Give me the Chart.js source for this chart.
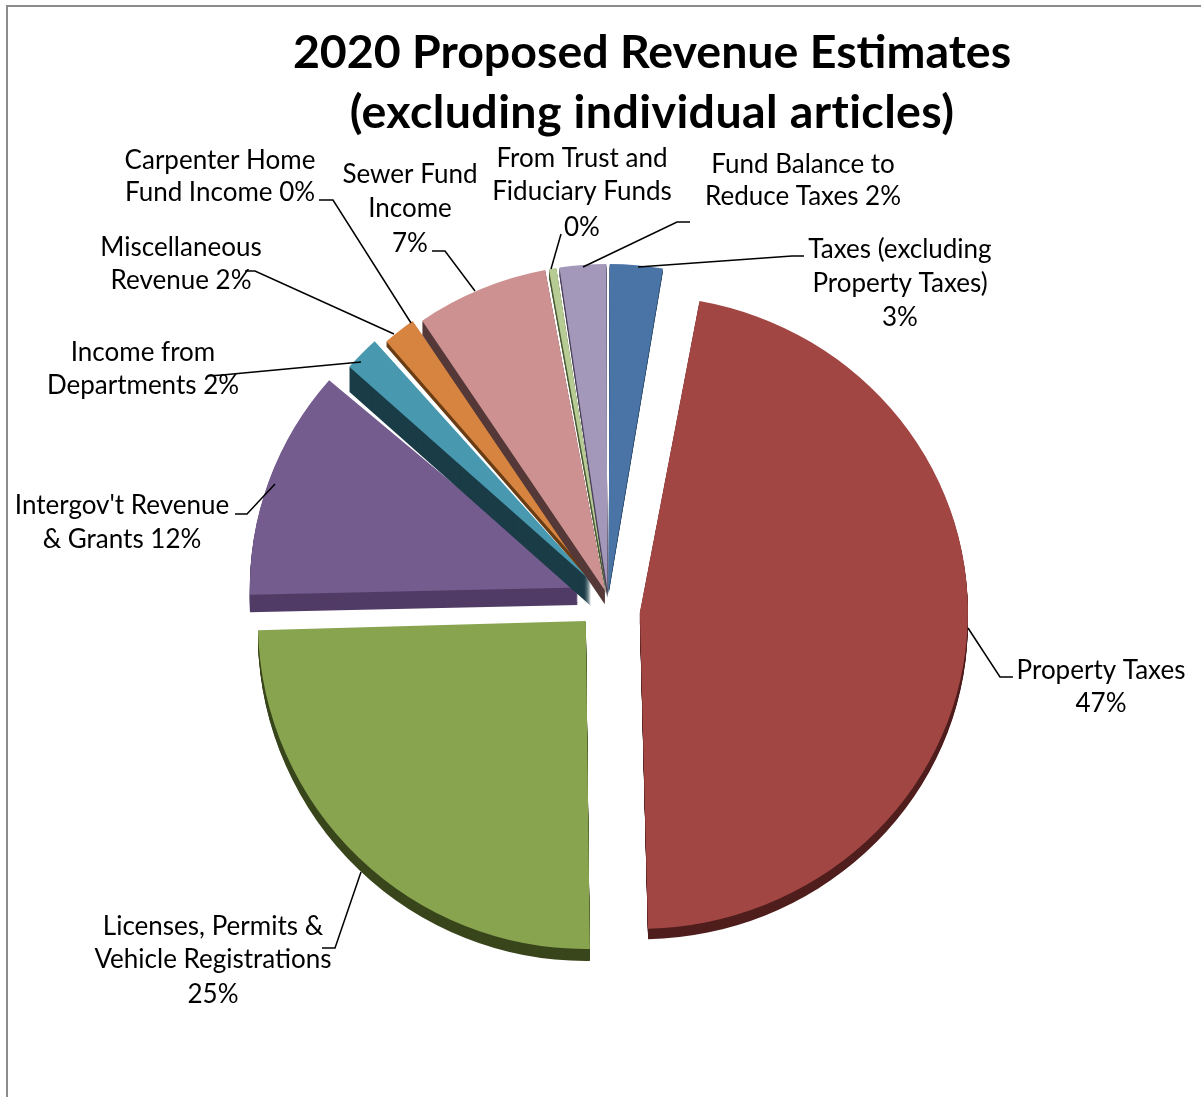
<!DOCTYPE html>
<html lang="en">
<head>
    <meta charset="UTF-8">
    <title>2020 Proposed Revenue Estimates</title>
    <script src="https://cdn.jsdelivr.net/npm/chart.js"></script>
    <style>
        html, body { margin: 0; padding: 0; background: #fff; overflow: hidden; }
        #wrap { position: relative; width: 1201px; height: 1097px; overflow: hidden; }
        #frame { position: absolute; left: 6px; top: 5px; width: 1300px; height: 1200px;
                 border-left: 2px solid #8c8c8c; border-top: 2px solid #8c8c8c; }
        #title { position: absolute; left: 252px; width: 800px; top: 20px; margin: 0; text-align: center;
                 font: bold 46.5px/60px Lato, sans-serif; color: #000; }
        #title span { letter-spacing: 0.4px; }
        canvas { position: absolute; left: 0; top: 0; }
    </style>
</head>
<body>
<div id="wrap">
    <div id="frame"></div>
    <canvas id="pie" width="1201" height="1097"></canvas>
    <h1 id="title">2020 Proposed Revenue Estimates<br><span>(excluding individual articles)</span></h1>
</div>
<script>
    const categories = ["Taxes (excluding Property Taxes)", "Property Taxes", "Licenses, Permits & Vehicle Registrations",
        "Intergov't Revenue & Grants", "Income from Departments", "Miscellaneous Revenue", "Carpenter Home Fund Income",
        "Sewer Fund Income", "From Trust and Fiduciary Funds", "Fund Balance to Reduce Taxes"];
    const shares = [2.7, 47, 24.7, 11.8, 2.1, 1.9, 0.1, 6.6, 0.49, 2.4];

    const colors = ["#4a74a6", "#a24644", "#88a44f", "#755c8f", "#4899b0", "#d6843f", "#93a9cf", "#cc9190", "#b7cc95", "#a397ba"];
    const sideColors = ["#2a4766", "#4f1e1d", "#39461c", "#513c66", "#1a3c47", "#6a3d15", "#566a8a", "#553838", "#4c5a35", "#4a4258"];
    const depths = [4, 11, 12, 18, 25, 5, 2, 14, 8, 8];
    // Chart.js moves a slice by a quarter of its offset
    const offsets = [32, 128, 128, 128, 96, 72, 32, 32, 32, 32];
    const radiusTrim = [2, 0, 0, 0, 5, 7, 2, 2, 2, 2];
    // back of the pie is foreshortened: vertical scale and the y it pivots on
    const squeeze = [1, 0.965, 1, 0.97, 1, 1, 1, 1, 1, 1];
    const squeezeY = [0, 935, 0, 600, 0, 0, 0, 0, 0, 0];
    const drawOrder = [2, 3, 4, 5, 6, 7, 8, 9, 0, 1];

    // label text without the percent, then where it sits: centre x, y of each line
    const labelLines = [
        ["Taxes (excluding", "Property Taxes)"],
        ["Property Taxes"],
        ["Licenses, Permits &", "Vehicle Registrations"],
        ["Intergov't Revenue", "& Grants"],
        ["Income from", "Departments"],
        ["Miscellaneous", "Revenue"],
        ["Carpenter Home", "Fund Income"],
        ["Sewer Fund", "Income"],
        ["From Trust and", "Fiduciary Funds"],
        ["Fund Balance to", "Reduce Taxes"]
    ];
    const percentOwnLine = [true, true, true, false, false, false, false, true, true, false];
    const labelX = [900, 1101, 213, 122, 143, 181, 220, 410, 582, 803];
    const labelY = [
        [250, 284, 318], [671, 704], [927, 960, 995], [506, 540], [353, 386],
        [248, 281], [161, 193], [175, 209, 244], [159, 192, 228], [165, 197]
    ];
    const leaders = [
        [[804, 256], [792, 256], [638, 267]],
        [[1013, 677], [1000, 677], [968, 628]],
        [[322, 948], [335, 948], [361, 872]],
        [[235, 514], [247, 514], [275, 484]],
        [[208, 376], [222, 375], [361, 362]],
        [[245, 271], [255, 271], [394, 334]],
        [[319, 200], [333, 200], [411, 323]],
        [[432, 251], [445, 251], [475, 291]],
        [[561, 234], [551, 269]],
        [[690, 222], [677, 222], [583, 267]]
    ];

    function drawSlice(ctx, arc, i) {
        // the library also grows a slice with its offset, take that back out
        const fix = 1 - Math.sin(Math.min(Math.PI, arc.circumference));
        const radius = arc.outerRadius;
        arc.outerRadius = radius - offsets[i] / 4 * fix - radiusTrim[i];
        ctx.save();
        if (squeeze[i] !== 1) {
            ctx.translate(0, squeezeY[i]);
            ctx.scale(1, squeeze[i]);
            ctx.translate(0, -squeezeY[i]);
        }
        const own = arc.options;
        arc.options = Object.assign({}, own, { backgroundColor: sideColors[i] });
        for (let d = depths[i]; d > 0; d--) {
            ctx.save();
            ctx.translate(0, d);
            arc.draw(ctx);
            ctx.restore();
        }
        arc.options = own;
        arc.draw(ctx);
        ctx.restore();
        arc.outerRadius = radius;
    }

    const pieExtras = {
        id: 'pieExtras',
        beforeDatasetDraw(chart) {
            const arcs = chart.getDatasetMeta(0).data;
            drawOrder.forEach(function(i) {
                drawSlice(chart.ctx, arcs[i], i);
            });
            return false;
        },
        afterDatasetsDraw(chart) {
            const ctx = chart.ctx;
            ctx.save();
            ctx.strokeStyle = '#000';
            ctx.lineWidth = 1.5;
            leaders.forEach(function(pts) {
                ctx.beginPath();
                pts.forEach(function(p, n) {
                    if (n === 0) ctx.moveTo(p[0], p[1]); else ctx.lineTo(p[0], p[1]);
                });
                ctx.stroke();
            });
            ctx.fillStyle = '#000';
            ctx.font = '26px Lato, sans-serif';
            ctx.textAlign = 'center';
            ctx.textBaseline = 'middle';
            categories.forEach(function(name, i) {
                const lines = labelLines[i].slice();
                const pct = Math.round(shares[i]) + '%';
                if (percentOwnLine[i]) lines.push(pct);
                else lines[lines.length - 1] += ' ' + pct;
                lines.forEach(function(text, n) {
                    ctx.fillText(text, labelX[i], labelY[i][n]);
                });
            });
            ctx.restore();
        }
    };

    new Chart(document.getElementById('pie'), {
        type: 'pie',
        data: {
            labels: categories,
            datasets: [{
                data: shares,
                backgroundColor: colors,
                offset: offsets,
                borderWidth: 0
            }]
        },
        options: {
            responsive: false,
            animation: false,
            radius: 328,
            layout: { padding: { left: 15, right: 0, top: 99, bottom: 0 } },
            plugins: {
                legend: { display: false },
                tooltip: { enabled: false },
                title: { display: false }
            }
        },
        plugins: [pieExtras]
    });
</script>
</body>
</html>
